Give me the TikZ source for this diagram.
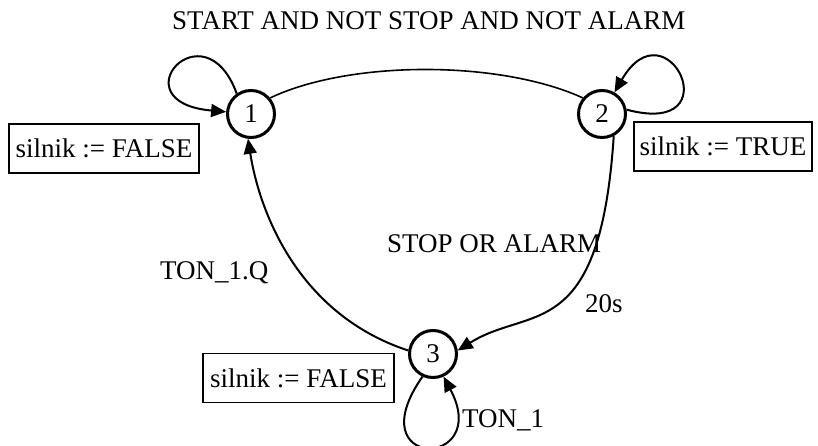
\documentclass[tikz,border=0pt]{standalone}
\usepackage{fontspec}
\setmainfont{Liberation Serif}
\usetikzlibrary{arrows.meta}
\begin{document}
\begin{tikzpicture}[x=1pt,y=1pt,
  every node/.style={font=\fontsize{27}{30}\selectfont},
  state/.style={circle,draw,line width=3pt,minimum size=47pt,inner sep=0pt},
  actbox/.style={draw,line width=1.5pt,inner sep=0pt,minimum height=49pt},
  arr/.style={line width=2pt,-{Triangle[length=15pt,width=13pt]}},
  plainedge/.style={line width=1.6pt},
  lbl/.style={anchor=base west,inner sep=0pt}]
\useasboundingbox (0,0) rectangle (818,445);
% states
\node[state] (n1) at (251,331) {1};
\node[state] (n2) at (602,331) {2};
\node[state] (n3) at (433,91) {3};
% action boxes
\node[actbox,minimum width=190pt] (b1) at (104,296.5) {silnik := FALSE};
\node[actbox,minimum width=178pt] (b2) at (723,298.5) {silnik := TRUE};
\node[actbox,minimum width=191pt] (b3) at (298.5,67) {silnik := FALSE};
% labels
\node[lbl] (t12) at (172,415) {START AND NOT STOP AND NOT ALARM};
\node[lbl] (t23) at (387,193) {STOP OR ALARM};
\node[lbl] (t31) at (160,166) {TON\_1.Q};
\node[lbl] (t20) at (585,133) {20s};
\node[lbl] (t33) at (462,18) {TON\_1};
% transitions
\draw[plainedge] (n1.40) .. controls (350,385) and (500,385) .. (n2.140);
\draw[arr] (n2.-62) .. controls (600,100) and (530,140) .. (n3.8);
\draw[arr] (n3.172) .. controls (300,130) and (260,230) .. (n1.-97);
% self loops
\draw[arr] (n1.125) to[out=110,in=175,out distance=95pt,in distance=110pt] (n1.175);
\draw[arr] (n2.10) to[out=-15,in=60,out distance=110pt,in distance=105pt] (n2.60);
\draw[arr] (n3.245) to[out=235,in=298,out distance=115pt,in distance=105pt] (n3.295);
\end{tikzpicture}
\end{document}
